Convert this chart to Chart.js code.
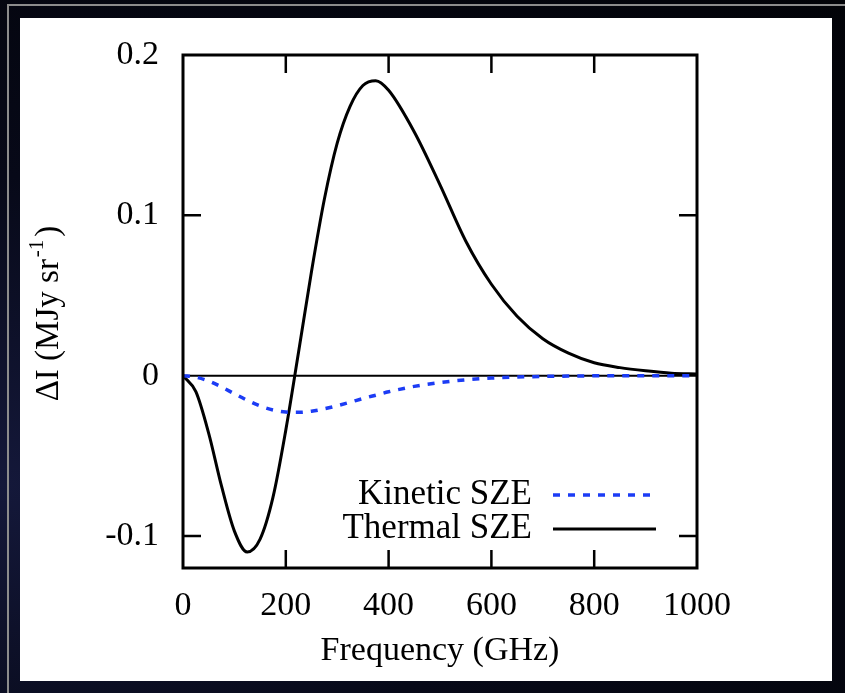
<!DOCTYPE html>
<html>
<head>
<meta charset="utf-8">
<script src="https://cdn.jsdelivr.net/npm/chart.js"></script>
<style>
  html, body { margin: 0; padding: 0; }
  body {
    width: 845px; height: 693px; overflow: hidden; position: relative;
    background: radial-gradient(ellipse at 0% 70%, #14183a 0%, #070918 45%, #020308 100%);
  }
  #edge { position: absolute; left: 7px; top: 4px; width: 845px; height: 693px;
          border-left: 2px solid #8c8c8c; border-top: 2px solid #8c8c8c; }
  #panel { position: absolute; left: 20px; top: 18px; width: 812px; height: 663px; background: #fff; }
  #wrap { position: absolute; left: 0; top: 0; width: 845px; height: 693px; }
</style>
</head>
<body>
<div id="edge"></div>
<div id="panel"></div>
<div id="wrap"><canvas id="myChart" width="845" height="693"></canvas></div>
<script>
// values
let freq = [0, 25, 50, 75, 100, 125, 150, 175, 200, 225, 250, 275, 300, 325, 350, 375, 400,
            450, 500, 550, 600, 650, 700, 750, 800, 850, 900, 950, 1000];
let thermal = [0, -0.010, -0.036, -0.069, -0.097, -0.110, -0.102, -0.076, -0.034, 0.015, 0.065, 0.110,
               0.145, 0.168, 0.181, 0.184, 0.178, 0.152, 0.119, 0.084, 0.057, 0.037, 0.023, 0.014,
               0.008, 0.005, 0.003, 0.0015, 0.001];
let kinetic = [0, -0.001, -0.0034, -0.0071, -0.0113, -0.0154, -0.0189, -0.0214, -0.0227, -0.0229,
               -0.0222, -0.0207, -0.0188, -0.0166, -0.0143, -0.0122, -0.0101, -0.0067, -0.0043,
               -0.0026, -0.0015, -0.0009, -0.0005, -0.0003, -0.0001, 0, 0, 0, 0];
let xTicks = [0, 200, 400, 600, 800, 1000];
let yTicks = [-0.1, 0, 0.1, 0.2];
let yTickLabels = ['-0.1', '0', '0.1', '0.2'];
let seriesNames = ['Kinetic SZE', 'Thermal SZE'];

const serif = "'Liberation Serif', 'DejaVu Serif', serif";
const pts = (ys) => freq.map((f, i) => ({x: f, y: ys[i]}));

// frame, inward ticks, zero line, legend, y title
const decor = {
    id: 'decor',
    beforeDatasetsDraw(chart) {
        const c = chart.ctx, a = chart.chartArea, y0 = chart.scales.y.getPixelForValue(0);
        c.save();
        c.strokeStyle = '#000';
        c.lineWidth = 2;
        c.beginPath(); c.moveTo(a.left, y0); c.lineTo(a.right, y0); c.stroke();
        c.restore();
    },
    afterDatasetsDraw(chart) {
        const c = chart.ctx, a = chart.chartArea, sx = chart.scales.x, sy = chart.scales.y;
        const len = 18;
        c.save();
        c.strokeStyle = '#000';
        c.lineWidth = 3;
        c.strokeRect(a.left, a.top, a.right - a.left, a.bottom - a.top);
        c.lineWidth = 2.5;
        c.beginPath();
        xTicks.slice(1, -1).forEach(v => {
            let px = sx.getPixelForValue(v);
            c.moveTo(px, a.bottom); c.lineTo(px, a.bottom - len);
            c.moveTo(px, a.top); c.lineTo(px, a.top + len);
        });
        [-0.1, 0.1].forEach(v => {
            let py = sy.getPixelForValue(v);
            c.moveTo(a.left, py); c.lineTo(a.left + len, py);
            c.moveTo(a.right, py); c.lineTo(a.right - len, py);
        });
        c.stroke();

        // legend
        c.font = '35px ' + serif;
        c.fillStyle = '#000';
        c.textAlign = 'right';
        c.textBaseline = 'middle';
        let rows = [495, 529];
        chart.data.datasets.forEach((ds, i) => {
            c.fillText(seriesNames[i], 532, rows[i]);
            c.strokeStyle = ds.borderColor;
            c.lineWidth = ds.borderWidth;
            c.setLineDash(ds.borderDash || []);
            c.beginPath(); c.moveTo(553, rows[i]); c.lineTo(656, rows[i]); c.stroke();
        });
        c.setLineDash([]);

        // y title with superscript
        let main = '\u0394I (MJy sr', sup = '-1', close = ')';
        c.translate(58, (a.top + a.bottom) / 2 + 2);
        c.rotate(-Math.PI / 2);
        c.textBaseline = 'alphabetic';
        c.textAlign = 'left';
        c.font = '33px ' + serif;
        let w1 = c.measureText(main).width, w3 = c.measureText(close).width;
        c.font = '21px ' + serif;
        let w2 = c.measureText(sup).width;
        let x = -(w1 + w2 + w3 + 5) / 2;
        c.font = '33px ' + serif;
        c.fillText(main, x, 0);
        c.font = '21px ' + serif;
        c.fillText(sup, x + w1 + 2, -15);
        c.font = '33px ' + serif;
        c.fillText(close, x + w1 + w2 + 5, 0);
        c.restore();
    }
};

let ctx = document.getElementById('myChart').getContext('2d');
let chart = new Chart(ctx, {
    type: 'line',
    data: {
        datasets: [{
            label: seriesNames[0],
            data: pts(kinetic),
            borderColor: '#1c3cf5',
            borderWidth: 3.5,
            borderDash: [7, 8],
            pointRadius: 0,
            cubicInterpolationMode: 'monotone'
        }, {
            label: seriesNames[1],
            data: pts(thermal),
            borderColor: '#000',
            borderWidth: 3,
            pointRadius: 0,
            cubicInterpolationMode: 'monotone'
        }]
    },
    options: {
        responsive: false,
        animation: false,
        layout: { padding: { left: 0, top: 55, right: 148, bottom: 0 } },
        plugins: { legend: { display: false }, tooltip: { enabled: false } },
        scales: {
            x: {
                type: 'linear', min: 0, max: 1000,
                afterFit: s => { s.height = 125; },
                afterBuildTicks: s => { s.ticks = xTicks.map(v => ({value: v})); },
                grid: { display: false, drawTicks: false },
                border: { display: false },
                ticks: { font: { family: serif, size: 34 }, color: '#000', padding: 18, maxRotation: 0,
                         callback: v => String(v) },
                title: { display: true, text: 'Frequency (GHz)', color: '#000',
                         font: { family: serif, size: 34 }, padding: { bottom: 22 } }
            },
            y: {
                min: -0.12, max: 0.2,
                afterFit: s => { s.width = 183; },
                afterBuildTicks: s => { s.ticks = yTicks.map(v => ({value: v})); },
                grid: { display: false, drawTicks: false },
                border: { display: false },
                ticks: { font: { family: serif, size: 34 }, color: '#000', padding: 24,
                         callback: (v, i) => yTickLabels[i] }
            }
        }
    },
    plugins: [decor]
});
</script>
</body>
</html>
